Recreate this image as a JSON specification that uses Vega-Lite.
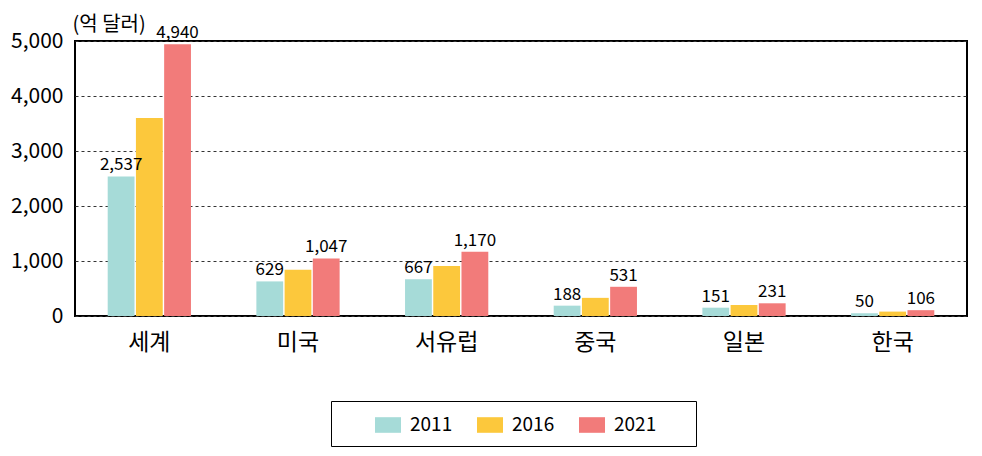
{
  "$schema": "https://vega.github.io/schema/vega-lite/v6.json",
  "autosize": "none",
  "width": 892,
  "height": 275,
  "padding": {"left": 75, "top": 41, "right": 15, "bottom": 140},
  "background": "white",
  "config": {
    "view": {"stroke": "black", "strokeWidth": 2},
    "font": "Noto Sans CJK KR"
  },
  "data": {
    "values": [
      {"region": "세계", "year": "2011", "value": 2537},
      {"region": "세계", "year": "2016", "value": 3600},
      {"region": "세계", "year": "2021", "value": 4940},
      {"region": "미국", "year": "2011", "value": 629},
      {"region": "미국", "year": "2016", "value": 840},
      {"region": "미국", "year": "2021", "value": 1047},
      {"region": "서유럽", "year": "2011", "value": 667},
      {"region": "서유럽", "year": "2016", "value": 910},
      {"region": "서유럽", "year": "2021", "value": 1170},
      {"region": "중국", "year": "2011", "value": 188},
      {"region": "중국", "year": "2016", "value": 330},
      {"region": "중국", "year": "2021", "value": 531},
      {"region": "일본", "year": "2011", "value": 151},
      {"region": "일본", "year": "2016", "value": 200},
      {"region": "일본", "year": "2021", "value": 231},
      {"region": "한국", "year": "2011", "value": 50},
      {"region": "한국", "year": "2016", "value": 80},
      {"region": "한국", "year": "2021", "value": 106}
    ]
  },
  "encoding": {
    "x": {
      "field": "region", "type": "nominal", "sort": null,
      "scale": {"paddingInner": 0.44, "paddingOuter": 0.22},
      "axis": {
        "title": null, "labelAngle": 0, "ticks": false, "domain": false,
        "labelFontSize": 23, "labelColor": "black",
        "labelPadding": 15
      }
    },
    "xOffset": {"field": "year", "type": "nominal", "scale": {"paddingInner": 0.05}},
    "y": {
      "field": "value", "type": "quantitative",
      "scale": {"domain": [0, 5000]},
      "axis": {
        "values": [0, 1000, 2000, 3000, 4000, 5000],
        "format": ",.0f",
        "ticks": false, "domain": false,
        "labelFontSize": 21, "labelColor": "black", "labelPadding": 12,
        "grid": true, "gridColor": "#333333", "gridDash": [3, 3], "gridWidth": 1,
        "title": "(억 달러)", "titleAngle": 0, "titleAlign": "left",
        "titleBaseline": "alphabetic", "titleX": -3, "titleY": -11,
        "titleFontSize": 20, "titleFontWeight": "normal",
        "titleColor": "black"
      }
    }
  },
  "layer": [
    {
      "mark": {"type": "bar"},
      "encoding": {
        "color": {
          "field": "year", "type": "nominal",
          "scale": {"domain": ["2011", "2016", "2021"], "range": ["#a6dbd8", "#fcc83c", "#f27b7a"]},
          "legend": {
            "title": "\u00a0", "titleOrient": "left", "titlePadding": 33,
            "orient": "none", "legendX": 256, "legendY": 360,
            "direction": "horizontal",
            "strokeColor": "black", "padding": 11,
            "symbolType": "M-1,-0.6H1V0.6H-1Z", "symbolSize": 676, "symbolStrokeWidth": 0,
            "labelFontSize": 19, "labelColor": "black", "labelOffset": 9,
            "columnPadding": 24,
            "labelExpr": "datum.label == '2021' ? datum.label + '\u2800\u2800' : datum.label"
          }
        }
      }
    },
    {
      "transform": [{"filter": "datum.year != '2016'"}],
      "mark": {"type": "text", "baseline": "bottom", "dy": -2, "fontSize": 17, "color": "black"},
      "encoding": {
        "text": {"field": "value", "type": "quantitative", "format": ","}
      }
    }
  ]
}
